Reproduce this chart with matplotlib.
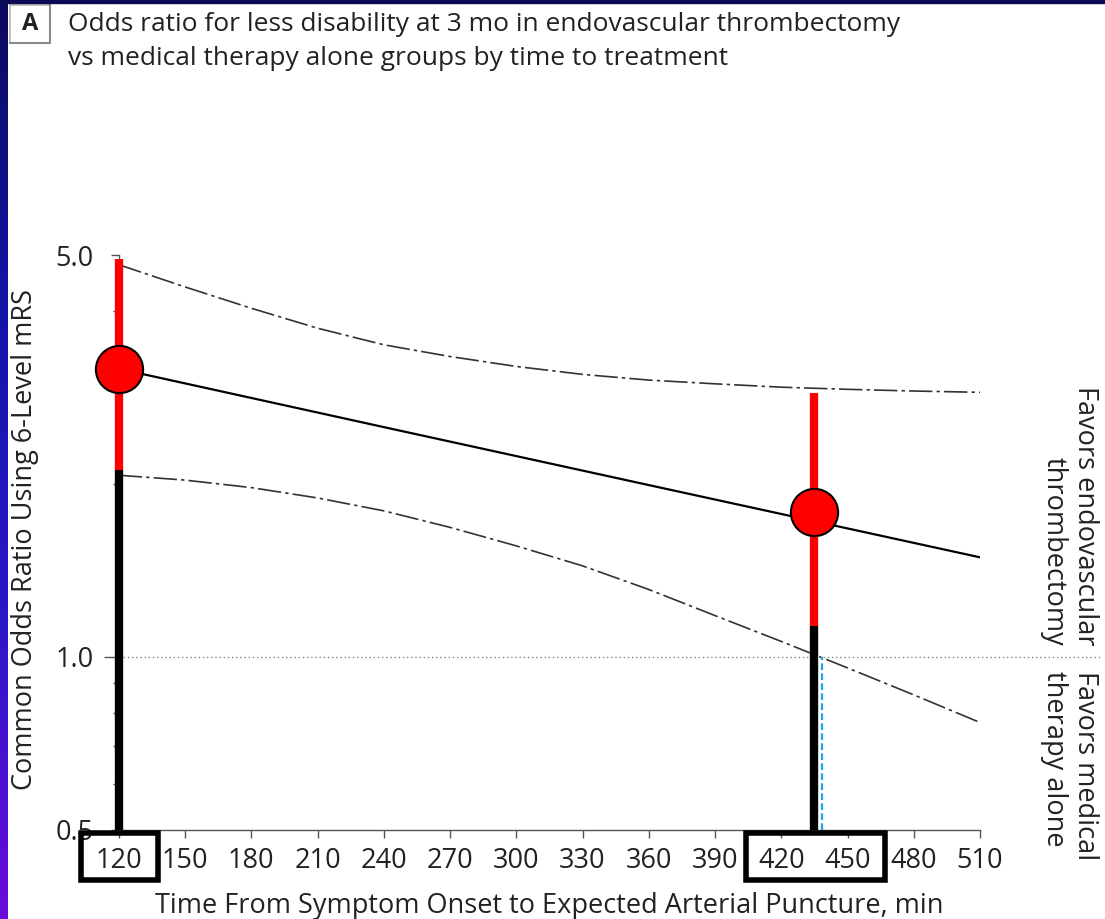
import numpy as np
import matplotlib
matplotlib.use("Agg")
import matplotlib.pyplot as plt
import matplotlib.ticker as tick
from matplotlib.patches import Rectangle
from matplotlib.lines import Line2D
from matplotlib.colors import LinearSegmentedColormap
import matplotlib.transforms as mtrans

plt.rcParams['font.family'] = ['Open Sans', 'DejaVu Sans']

# fitted line and 95% CI band (odds ratio vs onset-to-puncture time, min)
line_time = [120, 240, 360, 510]
line_or = [3.17, 2.51, 1.99, 1.49]

ci_time = [120, 150, 180, 210, 240, 270, 300, 330, 360, 390, 420, 450, 480, 510]
ci_upper = [4.81, 4.40, 4.04, 3.73, 3.49, 3.33, 3.20, 3.10, 3.03, 2.985, 2.945, 2.92, 2.90, 2.885]
ci_lower = [2.07, 2.03, 1.97, 1.89, 1.795, 1.68, 1.56, 1.44, 1.31, 1.18, 1.064, 0.957, 0.859, 0.769]

# highlighted time points
pt_time = [120, 435]
pt_or = [3.17, 1.79]
pt_low = [2.11, 1.13]
pt_high = [4.93, 2.88]

# time where the lower CI crosses OR = 1
cross_time = 438.3

xticks = list(range(120, 511, 30))
yticks = [0.5, 1.0, 5.0]
ytick_labels = ["0.5", "1.0", "5.0"]
yminor = [0.6, 0.7, 0.8, 0.9, 2, 3, 4]
boxed_ranges = [(102.9, 137.8), (404.1, 467.0)]

title1 = "Odds ratio for less disability at 3 mo in endovascular thrombectomy"
title2 = "vs medical therapy alone groups by time to treatment"
xlab = "Time From Symptom Onset to Expected Arterial Puncture, min"
ylab = "Common Odds Ratio Using 6-Level mRS"
favors_top = "Favors endovascular\nthrombectomy"
favors_bot = "Favors medical\ntherapy alone"

W, H = 1105, 919
fs = 19.5
txt = "#222222"
fig = plt.figure(figsize=(W / 100, H / 100), dpi=100)
fig.patch.set_facecolor("white")

# slide frame: gradient strip on the left, dark strip on top
cmap = LinearSegmentedColormap.from_list("frame", ["#0b0b5e", "#1414a8", "#2a18c8", "#6a0cd8"])
bg = fig.add_axes([0, 0, 8 / W, 1])
bg.imshow(np.linspace(0, 1, 256).reshape(-1, 1), cmap=cmap, aspect="auto")
bg.axis("off")
fig.patches.append(Rectangle((0, 1 - 3 / H), 1, 3 / H, transform=fig.transFigure,
                             color="#0b0b55", zorder=5))

ax = fig.add_axes([118.75 / W, (H - 830) / H, 861.25 / W, 575 / H])
ax.set_yscale("log")
ax.set_xlim(120, 510)
ax.set_ylim(0.5, 5.0)

grey = "#555555"
for s in ["top", "right"]:
    ax.spines[s].set_visible(False)
for s in ["left", "bottom"]:
    ax.spines[s].set_color(grey)
    ax.spines[s].set_linewidth(1)

ax.set_xticks(xticks)
ax.set_xticklabels([str(t) for t in xticks])
ax.set_yticks(yticks)
ax.set_yticklabels(ytick_labels)
ax.yaxis.set_minor_locator(tick.FixedLocator(yminor))
ax.yaxis.set_minor_formatter(tick.NullFormatter())
ax.tick_params(axis="x", length=6, width=1, color=grey, pad=6, labelsize=fs, labelcolor=txt)
ax.tick_params(axis="y", which="major", length=6, width=1, color=grey, pad=12, labelsize=fs,
               labelcolor=txt)
ax.tick_params(axis="y", which="minor", length=4, width=1, color=grey)
ax.yaxis.get_major_ticks()[1].tick1line.set_markersize(11)

# reference line at OR = 1, running into the right margin
ax.plot([0, 1.139], [1.0, 1.0], transform=ax.get_yaxis_transform(), color="#888888",
        lw=1, ls=(0, (1, 2)), clip_on=False, zorder=1)

# CI band and fitted line
dash = (0, (14, 2.5, 2, 2.5))
ax.plot(ci_time, ci_upper, color="#333333", lw=1.2, ls=dash, zorder=2)
ax.plot(ci_time, ci_lower, color="#333333", lw=1.2, ls=dash, zorder=2)
ax.plot(line_time, line_or, color="black", lw=1.6, zorder=3)

# vertical bars: black below the CI, red across the CI
for t, lo, hi in zip(pt_time, pt_low, pt_high):
    ax.plot([t, t], [0.5, lo], color="black", lw=6, solid_capstyle="butt", zorder=4, clip_on=False)
    ax.plot([t, t], [lo, hi], color="red", lw=6, solid_capstyle="butt", zorder=4, clip_on=False)

ax.plot([cross_time, cross_time], [0.5, 1.0], color="#1ba9e6", lw=1.6, ls=(0, (3, 1.5)), zorder=4)

ax.plot(pt_time, pt_or, "o", ms=34, mfc="red", mec="black", mew=1.5, zorder=6, clip_on=False)

# boxes around tick labels
for x0, x1 in boxed_ranges:
    ax.add_patch(Rectangle((x0, -0.087), x1 - x0, 0.082, transform=ax.get_xaxis_transform(),
                           fill=False, ec="black", lw=4, clip_on=False, zorder=7))

ax.set_xlabel(xlab, fontsize=fs, color=txt, va="top")
ax.xaxis.set_label_coords(0.5, -0.108)
ax.set_ylabel(ylab, fontsize=fs, color=txt, va="center")
ax.yaxis.set_label_coords(-0.1089, 0.506)

# side annotations
blend = mtrans.blended_transform_factory(fig.transFigure, ax.transData)
ax.annotate(favors_top, xy=(1099 / W, 1.0), xycoords=blend, xytext=(0, 8),
            textcoords="offset points", rotation=270, ha="right", va="bottom",
            multialignment="right", fontsize=fs, color=txt, linespacing=1.15)
ax.annotate(favors_bot, xy=(1099 / W, 1.0), xycoords=blend, xytext=(0, -10),
            textcoords="offset points", rotation=270, ha="right", va="top",
            multialignment="left", fontsize=fs, color=txt, linespacing=1.15)

# panel label box (light edge with darker right/bottom shadow) and title
fig.patches.append(Rectangle((10 / W, 1 - 43 / H), 40 / W, 38 / H, transform=fig.transFigure,
                             fill=False, ec="#b5b5b5", lw=1.2))
fig.lines.append(Line2D([50 / W, 50 / W, 10 / W], [1 - 5 / H, 1 - 43 / H, 1 - 43 / H],
                        transform=fig.transFigure, color="#8a8a8a", lw=1.5))
fig.text(30 / W, 1 - 24 / H, "A", ha="center", va="center", fontsize=17, fontweight="bold",
         color=txt)
fig.text(68 / W, 1 - 31 / H, title1, ha="left", va="baseline", fontsize=19, color=txt)
fig.text(68 / W, 1 - 65 / H, title2, ha="left", va="baseline", fontsize=19, color=txt)

fig.savefig("out.png", dpi=100)
